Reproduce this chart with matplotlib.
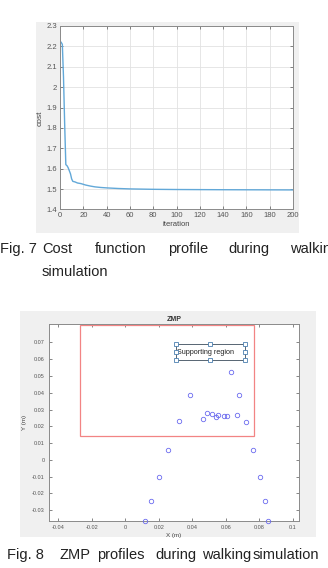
import matplotlib
matplotlib.use('Agg')
import matplotlib.pyplot as plt
from matplotlib.patches import Rectangle

# Fig. 7 - cost vs iteration
iterations = [1, 2, 3, 4, 5, 6, 7, 8, 9, 10, 11, 13, 15, 18, 22, 26, 30, 35, 40,
              50, 60, 80, 100, 140, 200]
cost = [2.22, 2.21, 2.05, 1.82, 1.62, 1.615, 1.605, 1.59, 1.575, 1.55, 1.538,
        1.535, 1.53, 1.527, 1.52, 1.515, 1.511, 1.508, 1.506, 1.503, 1.501,
        1.499, 1.498, 1.497, 1.496]
cost_xticks = list(range(0, 201, 20))
cost_yticks = [1.4, 1.5, 1.6, 1.7, 1.8, 1.9, 2.0, 2.1, 2.2, 2.3]
cost_ylabels = ['1.4', '1.5', '1.6', '1.7', '1.8', '1.9', '2', '2.1', '2.2', '2.3']

# Fig. 8 - ZMP points
zmp_x = [0.0631, 0.0384, 0.0677, 0.0488, 0.0516, 0.0552, 0.0541, 0.0591, 0.0609,
         0.0665, 0.0319, 0.0466, 0.0721, 0.0253, 0.0762, 0.0199, 0.0802, 0.0153,
         0.0832, 0.0118, 0.0852]
zmp_y = [0.0526, 0.0387, 0.0389, 0.0280, 0.0276, 0.0270, 0.0256, 0.0262, 0.0262,
         0.0266, 0.0230, 0.0242, 0.0228, 0.0061, 0.0060, -0.0101, -0.0105, -0.0248,
         -0.0248, -0.0365, -0.0365]
zmp_xticks = [-0.04, -0.02, 0, 0.02, 0.04, 0.06, 0.08, 0.1]
zmp_xlabels = ['-0.04', '-0.02', '0', '0.02', '0.04', '0.06', '0.08', '0.1']
zmp_yticks = [-0.03, -0.02, -0.01, 0, 0.01, 0.02, 0.03, 0.04, 0.05, 0.06, 0.07]
zmp_ylabels = ['-0.03', '-0.02', '-0.01', '0', '0.01', '0.02', '0.03', '0.04',
               '0.05', '0.06', '0.07']
support_x = (-0.027, 0.0768)
support_y = (0.0143, 0.0805)
label_box_x = (0.0302, 0.0715)
label_box_y = (0.0595, 0.069)

W, H = 328, 568
fig = plt.figure(figsize=(W / 100, H / 100), dpi=100)
fig.patch.set_facecolor('white')
plt.rcParams['font.family'] = ['Liberation Sans', 'DejaVu Sans']


def px_rect(x0, y0, x1, y1):
    # pixel box (top-left origin) -> figure fraction rect
    return [x0 / W, 1 - y1 / H, (x1 - x0) / W, (y1 - y0) / H]


# gray panels behind the matlab figures
for box in ([36, 22, 299, 233], [20, 311, 316, 537]):
    r = px_rect(*box)
    fig.patches.append(Rectangle((r[0], r[1]), r[2], r[3], transform=fig.transFigure,
                                 facecolor='#f0f0f0', edgecolor='none', zorder=-5))

# ---- top: cost profile ----
ax1 = fig.add_axes(px_rect(60, 26, 293, 209.5))
ax1.plot(iterations, cost, color='#62a8d8', linewidth=1.0)
ax1.set_xlim(0, 200)
ax1.set_ylim(1.4, 2.3)
ax1.set_xticks(cost_xticks)
ax1.set_yticks(cost_yticks)
ax1.set_yticklabels(cost_ylabels)
ax1.grid(True, color='#e2e2e2', linewidth=0.6)
ax1.tick_params(direction='in', length=2.5, width=0.5, labelsize=5.5,
                colors='#555555', top=True, right=True, pad=2)
ax1.set_xlabel('iteration', fontsize=5.5, color='#444444', labelpad=1)
ax1.set_ylabel('cost', fontsize=6, color='#444444', labelpad=2)
for s in ax1.spines.values():
    s.set_color('#8a8a8a')
    s.set_linewidth(0.7)

# ---- bottom: ZMP ----
ax2 = fig.add_axes(px_rect(49, 324, 299, 521))
ax2.add_patch(Rectangle((support_x[0], support_y[0]), support_x[1] - support_x[0],
                        support_y[1] - support_y[0], fill=False,
                        edgecolor='#f28484', linewidth=0.9, zorder=2))
ax2.plot(zmp_x, zmp_y, 'o', mfc='none', mec='#6b6bef', ms=3.2, mew=0.6,
         clip_on=False, zorder=3)
ax2.set_xlim(-0.0455, 0.1037)
ax2.set_ylim(-0.0365, 0.081)
ax2.set_xticks(zmp_xticks)
ax2.set_xticklabels(zmp_xlabels)
ax2.set_yticks(zmp_yticks)
ax2.set_yticklabels(zmp_ylabels)
ax2.tick_params(direction='in', length=2.5, width=0.5, labelsize=4,
                colors='#555555', top=True, right=True, pad=3)
ax2.set_xlabel('X (m)', fontsize=4.5, color='#444444', labelpad=2)
ax2.set_ylabel('Y (m)', fontsize=4.5, color='#444444', labelpad=4)
ax2.set_title('ZMP', fontsize=5, fontweight='bold', color='#333333', pad=2)
for s in ax2.spines.values():
    s.set_color('#8a8a8a')
    s.set_linewidth(0.7)

# "Supporting region" text box (matlab edit handles)
bx0, bx1 = label_box_x
by0, by1 = label_box_y
ax2.add_patch(Rectangle((bx0, by0), bx1 - bx0, by1 - by0, fill=False,
                        edgecolor='#3c4c5c', linewidth=0.6, zorder=4))
ax2.text(bx0 + 0.0008, (by0 + by1) / 2, 'Supporting region', fontsize=5.2,
         va='center', ha='left', color='#222222', zorder=5)
hx = [bx0, (bx0 + bx1) / 2, bx1]
hy = [by0, (by0 + by1) / 2, by1]
handles = [(x, y) for x in hx for y in hy if not (x == hx[1] and y == hy[1])]
ax2.plot([h[0] for h in handles], [h[1] for h in handles], 's', mfc='white',
         mec='#4a7fb0', ms=2.2, mew=0.6, zorder=6)

# captions (justified words)
cap7 = [('Fig. 7', 0), ('Cost', 42), ('function', 95), ('profile', 168),
        ('during', 228), ('walking', 290)]
for word, x in cap7:
    fig.text(x / W, 1 - 249 / H, word, fontsize=10.5, va='center', ha='left',
             color='#222222')
fig.text(42 / W, 1 - 272 / H, 'simulation', fontsize=10.5, va='center',
         ha='left', color='#222222')

cap8 = [('Fig. 8', 7), ('ZMP', 60), ('profiles', 97), ('during', 155),
        ('walking', 202), ('simulation', 253)]
for word, x in cap8:
    fig.text(x / W, 1 - 555 / H, word, fontsize=10.5, va='center', ha='left',
             color='#222222')

fig.savefig('out.png', dpi=100, facecolor='white')
